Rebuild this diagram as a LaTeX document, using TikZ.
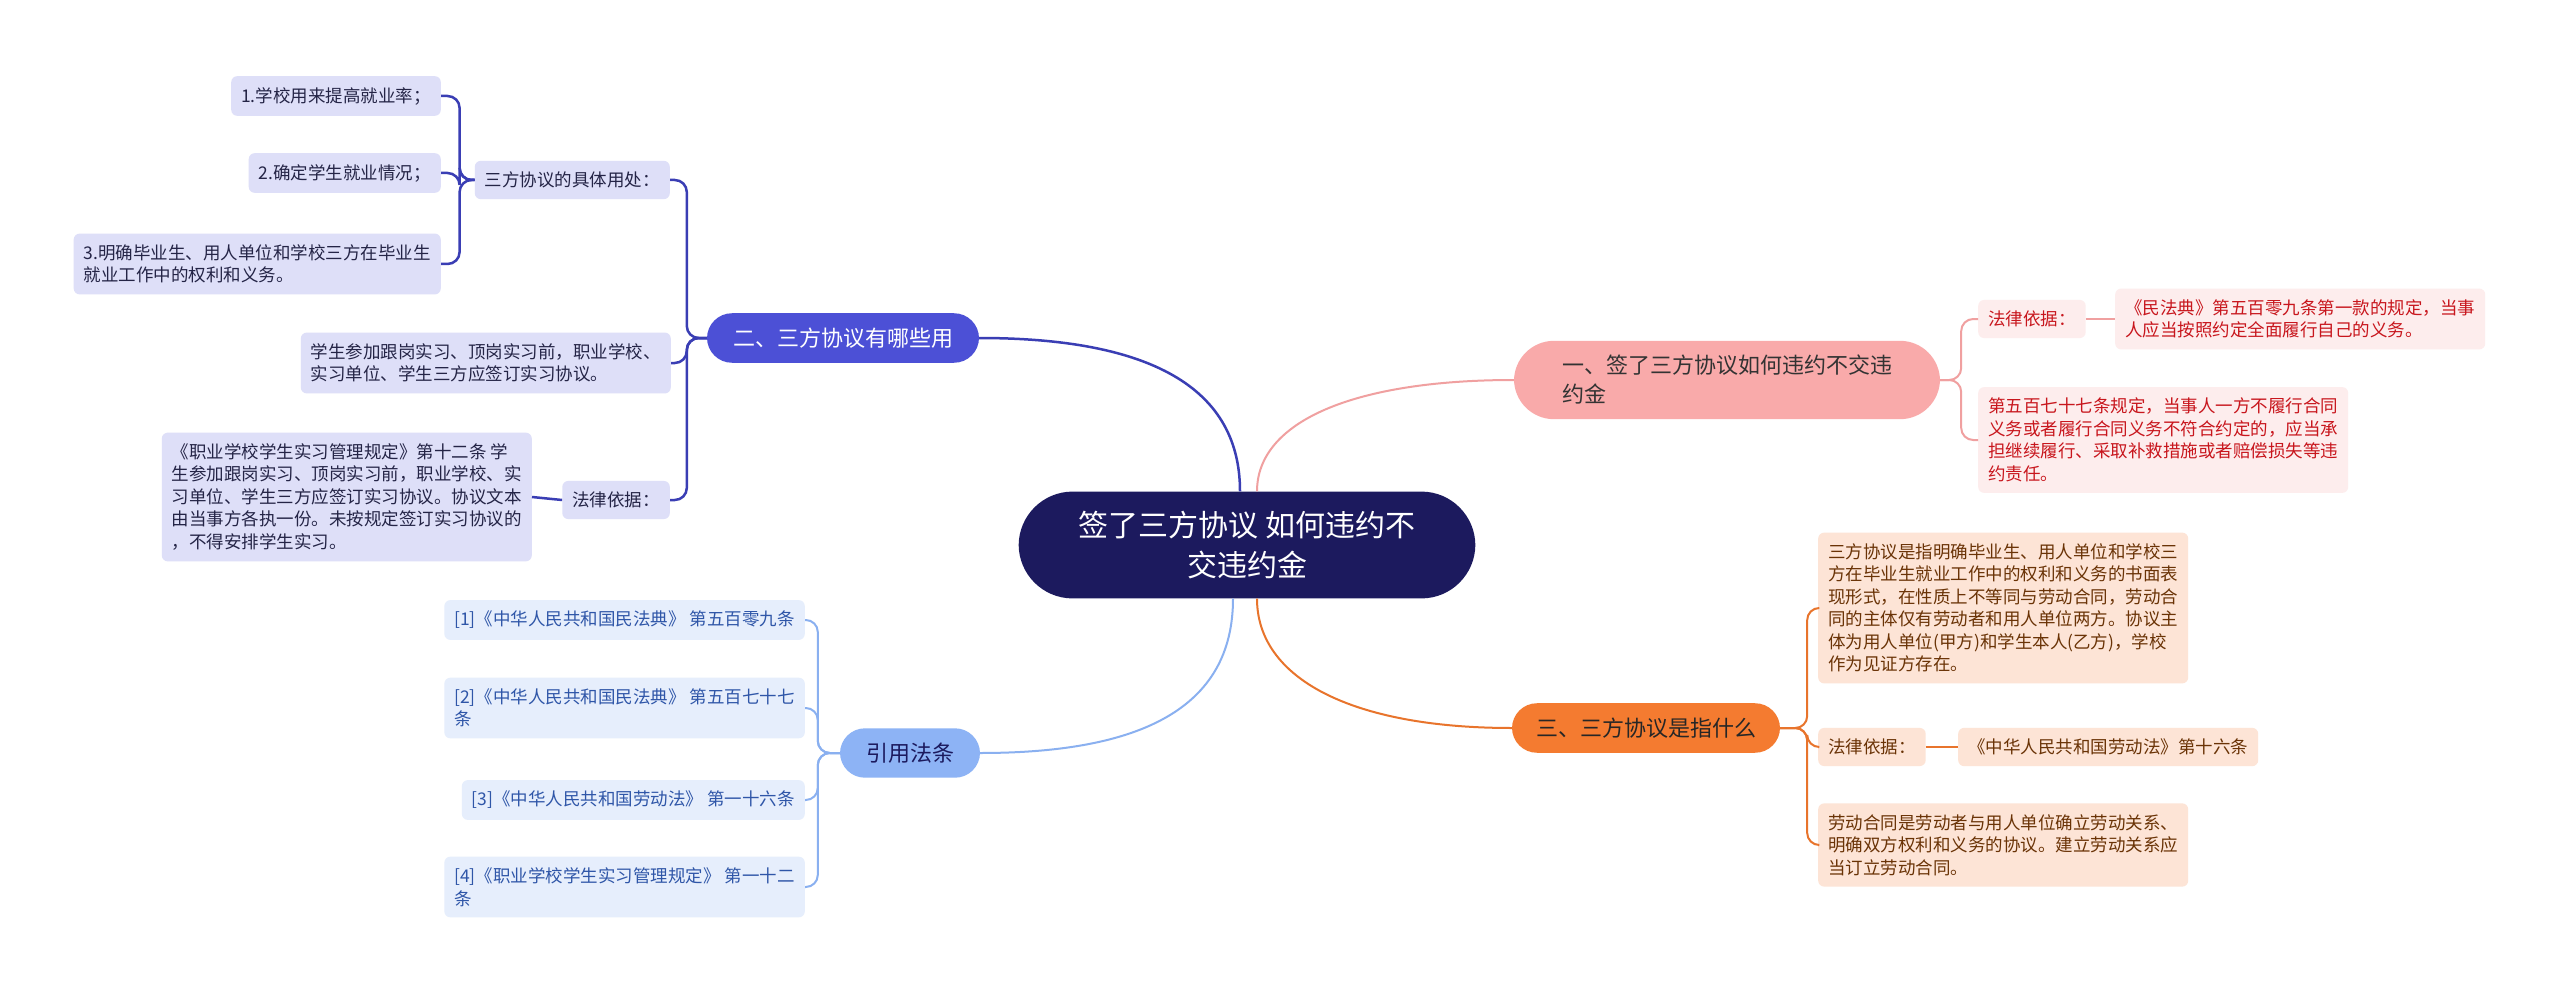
\documentclass[tikz,border=0pt]{standalone}
\usepackage{fontspec}
\setmainfont{Noto Sans CJK SC}
\definecolor{C0}{RGB}{ 28, 26, 94}
\definecolor{C1}{RGB}{249,170,170}
\definecolor{C1l}{RGB}{253,237,237}
\definecolor{C1t}{RGB}{200, 22, 29}
\definecolor{C1k}{RGB}{240,160,160}
\definecolor{C2}{RGB}{ 76, 80,214}
\definecolor{C2l}{RGB}{222,223,248}
\definecolor{C2t}{RGB}{ 36, 36, 70}
\definecolor{C2k}{RGB}{ 58, 62,180}
\definecolor{C3}{RGB}{244,123, 48}
\definecolor{C3l}{RGB}{253,228,214}
\definecolor{C3t}{RGB}{106, 51,  6}
\definecolor{C3k}{RGB}{232,116, 44}
\definecolor{C4}{RGB}{141,179,245}
\definecolor{C4l}{RGB}{230,238,252}
\definecolor{C4t}{RGB}{ 47, 86,168}
\definecolor{C4k}{RGB}{138,176,240}
\begin{document}
\begin{tikzpicture}[x=1pt, y=-1pt,
    leaf/.style={rounded corners=6pt, inner xsep=10pt, inner ysep=11pt, align=left,
        font=\fontsize{17.5}{22.5}\selectfont},
    branch/.style={rounded corners=25pt, inner xsep=26pt, inner ysep=14.5pt, align=left,
        font=\fontsize{22}{29}\selectfont},
    link/.style={line width=2pt, rounded corners=12pt}]

    %% page
    \useasboundingbox (0,0) rectangle (2560,995);
    \fill[white] (0,0) rectangle (2560,995);

    %% --- Root ---
    \node[fill=C0, text=white, rounded corners=54pt, inner xsep=60pt, inner ysep=19.5pt,
        align=center, font=\fontsize{30}{40}\selectfont] (root) at (1247,545)
        {签了三方协议 如何违约不\\交违约金};

    %% --- Main branches ---
    \node[branch, fill=C2, text=white] (b2) at (843,338) {二、三方协议有哪些用};
    \node[branch, fill=C4, text=C0] (cite) at (910,753) {引用法条};
    \node[branch, fill=C1, text=black!80, inner xsep=48pt, rounded corners=40pt] (b1) at (1727,380)
        {一、签了三方协议如何违约不交违\\约金};
    \node[branch, fill=C3, text=black!85, inner xsep=24pt] (b3) at (1646,728) {三、三方协议是指什么};

    %% --- Branch two (left, top) ---
    \node[leaf, fill=C2l, text=C2t, anchor=east] (usage) at (670,180) {三方协议的具体用处：};
    \node[leaf, fill=C2l, text=C2t, anchor=east] (use1) at (441,96) {1.学校用来提高就业率；};
    \node[leaf, fill=C2l, text=C2t, anchor=east] (use2) at (441,173) {2.确定学生就业情况；};
    \node[leaf, fill=C2l, text=C2t, anchor=east] (use3) at (441,264)
        {3.明确毕业生、用人单位和学校三方在毕业生\\就业工作中的权利和义务。};
    \node[leaf, fill=C2l, text=C2t, anchor=east] (intern) at (671,363)
        {学生参加跟岗实习、顶岗实习前，职业学校、\\实习单位、学生三方应签订实习协议。};
    \node[leaf, fill=C2l, text=C2t, anchor=east] (law2) at (670,500) {法律依据：};
    \node[leaf, fill=C2l, text=C2t, anchor=east] (law2txt) at (532,497)
        {《职业学校学生实习管理规定》第十二条 学\\生参加跟岗实习、顶岗实习前，职业学校、实\\习单位、学生三方应签订实习协议。协议文本\\由当事方各执一份。未按规定签订实习协议的\\，不得安排学生实习。};

    %% --- Cited articles (left, bottom) ---
    \node[leaf, fill=C4l, text=C4t, anchor=east] (r1) at (805,620) {[1]《中华人民共和国民法典》 第五百零九条};
    \node[leaf, fill=C4l, text=C4t, anchor=east] (r2) at (805,708) {[2]《中华人民共和国民法典》 第五百七十七\\条};
    \node[leaf, fill=C4l, text=C4t, anchor=east] (r3) at (805,800) {[3]《中华人民共和国劳动法》 第一十六条};
    \node[leaf, fill=C4l, text=C4t, anchor=east] (r4) at (805,887) {[4]《职业学校学生实习管理规定》 第一十二\\条};

    %% --- Branch one (right, top) ---
    \node[leaf, fill=C1l, text=C1t, anchor=west] (law1) at (1978,319) {法律依据：};
    \node[leaf, fill=C1l, text=C1t, anchor=west] (civ) at (2115,319)
        {《民法典》第五百零九条第一款的规定，当事\\人应当按照约定全面履行自己的义务。};
    \node[leaf, fill=C1l, text=C1t, anchor=west] (art577) at (1978,440)
        {第五百七十七条规定，当事人一方不履行合同\\义务或者履行合同义务不符合约定的，应当承\\担继续履行、采取补救措施或者赔偿损失等违\\约责任。};

    %% --- Branch three (right, bottom) ---
    \node[leaf, fill=C3l, text=C3t, anchor=west] (def) at (1818,608)
        {三方协议是指明确毕业生、用人单位和学校三\\方在毕业生就业工作中的权利和义务的书面表\\现形式，在性质上不等同与劳动合同，劳动合\\同的主体仅有劳动者和用人单位两方。协议主\\体为用人单位(甲方)和学生本人(乙方)，学校\\作为见证方存在。};
    \node[leaf, fill=C3l, text=C3t, anchor=west] (law3) at (1818,747) {法律依据：};
    \node[leaf, fill=C3l, text=C3t, anchor=west] (labor) at (1958,747) {《中华人民共和国劳动法》第十六条};
    \node[leaf, fill=C3l, text=C3t, anchor=west] (contract) at (1818,845)
        {劳动合同是劳动者与用人单位确立劳动关系、\\明确双方权利和义务的协议。建立劳动关系应\\当订立劳动合同。};

    %% --- Root to branches ---
    \draw[link, C2k, line width=2.5pt] (b2.east) .. controls +(160,0) and +(0,-110) .. ([xshift=-7pt]root.north);
    \draw[link, C1k] ([xshift=10pt]root.north) .. controls +(0,-70) and +(-160,0) .. (b1.west);
    \draw[link, C4k] (cite.east) .. controls +(160,0) and +(0,110) .. ([xshift=-14pt]root.south);
    \draw[link, C3k] ([xshift=10pt]root.south) .. controls +(0,80) and +(-160,0) .. (b3.west);

    %% --- Brackets, left ---
    \foreach \n in {usage, intern, law2}
        \draw[link, C2k, line width=2.5pt] (b2.west) -- ++(-20,0) |- (\n.east);
    \foreach \n in {use1, use2, use3}
        \draw[link, C2k, line width=2.5pt] (usage.west) -- ++(-15,0) |- (\n.east);
    \draw[link, C2k, line width=2.5pt] (law2.west) -- (law2txt.east);
    \foreach \n in {r1, r2, r3, r4}
        \draw[link, C4k] (cite.west) -- ++(-22,0) |- (\n.east);

    %% --- Brackets, right ---
    \foreach \n in {law1, art577}
        \draw[link, C1k] (b1.east) -- ++(21,0) |- (\n.west);
    \draw[link, C1k] (law1.east) -- (civ.west);
    \foreach \n in {def, law3, contract}
        \draw[link, C3k] (b3.east) -- ++(27,0) |- (\n.west);
    \draw[link, C3k] (law3.east) -- (labor.west);

\end{tikzpicture}
\end{document}
